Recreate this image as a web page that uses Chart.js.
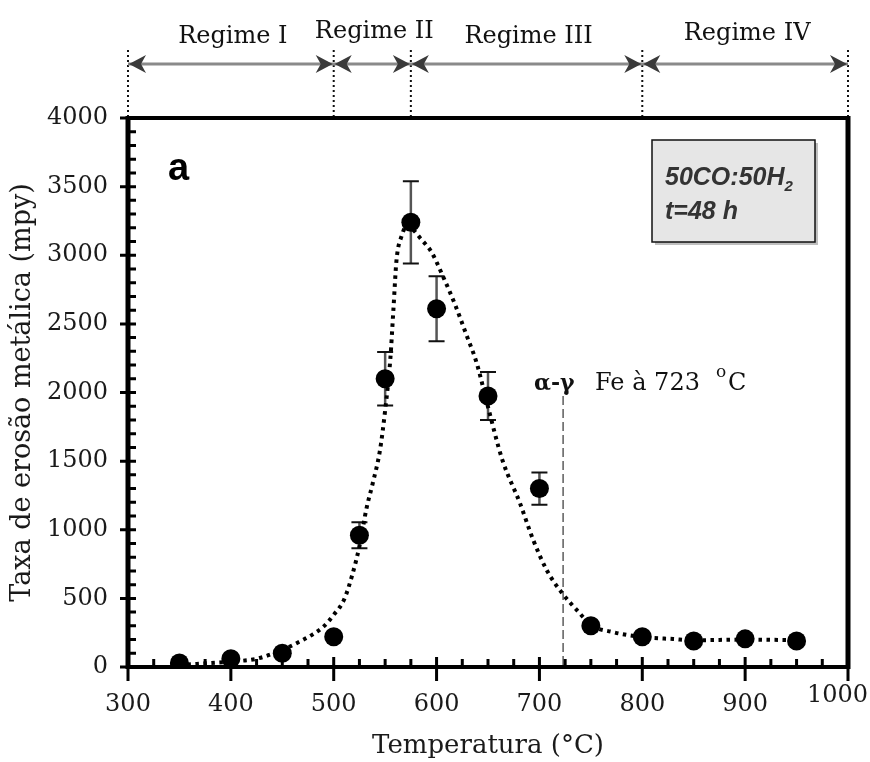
<!DOCTYPE html>
<html>
<head>
<meta charset="utf-8">
<script src="https://cdn.jsdelivr.net/npm/chart.js@4.4.0/dist/chart.umd.min.js"></script>
<style>
  html, body { margin: 0; padding: 0; background: #fff; }
  #wrap { width: 870px; height: 762px; }
</style>
</head>
<body>
<div id="wrap"><canvas id="erosionChart" width="870" height="762"></canvas></div>
<script>
// measured points (temperature in °C, erosion rate in mpy)
const temps  = [350, 400, 450, 500, 525, 550, 575, 600, 650, 700, 750, 800, 850, 900, 950];
const rates  = [30, 60, 100, 220, 960, 2100, 3240, 2610, 1975, 1300, 300, 220, 190, 205, 190];
const errors = [0, 0, 0, 0, 95, 195, 300, 237, 175, 117, 0, 0, 0, 0, 0];

// dotted fit curve
const fitTemps = [350, 400, 425, 450, 470, 480, 490, 500, 510, 518, 525, 532, 538, 545, 550, 555, 558, 561, 566, 572, 578, 584, 595, 606, 618, 629, 639, 649, 664, 681, 694, 707, 722, 739, 750, 771, 800, 830, 850, 900, 950];
const fitRates = [15, 40, 60, 125, 197, 240, 294, 380, 490, 670, 880, 1160, 1340, 1580, 1870, 2240, 2600, 2960, 3140, 3220, 3180, 3126, 3024, 2850, 2640, 2420, 2215, 1924, 1508, 1195, 925, 707, 539, 393, 306, 255, 218, 204, 195, 200, 195];

// regimes above the plot
const regimeBounds = [300, 500, 575, 800, 1000];
const regimeLabels = ["Regime I", "Regime II", "Regime III", "Regime IV"];
const regimeLabelY = [35, 30, 35, 32];

const xTicks = [300, 400, 500, 600, 700, 800, 900, 1000];
const yTicks = [0, 500, 1000, 1500, 2000, 2500, 3000, 3500, 4000];
const transitionTemp = 723;

const serif = "'DejaVu Serif', 'Liberation Serif', serif";
const sans = "'Liberation Sans', Arial, sans-serif";

const pts = temps.map((t, i) => ({ x: t, y: rates[i] }));
const fitPts = fitTemps.map((t, i) => ({ x: t, y: fitRates[i] }));

function arrowHead(ctx, x, y, dir) {
    // dir = -1 points left, 1 points right
    ctx.beginPath();
    ctx.moveTo(x, y);
    ctx.lineTo(x - dir * 17, y - 9);
    ctx.lineTo(x - dir * 12, y);
    ctx.lineTo(x - dir * 17, y + 9);
    ctx.closePath();
    ctx.fill();
}

const decorations = {
    id: "decorations",
    beforeDatasetsDraw(chart) {
        const ctx = chart.ctx;
        const xs = chart.scales.x, ys = chart.scales.y;
        const bottom = chart.chartArea.bottom;
        ctx.save();

        // transition line
        const xt = xs.getPixelForValue(transitionTemp);
        ctx.strokeStyle = "#333";
        ctx.lineWidth = 1.2;
        ctx.setLineDash([9, 4]);
        ctx.beginPath();
        ctx.moveTo(xt, 396);
        ctx.lineTo(xt, bottom);
        ctx.stroke();
        ctx.setLineDash([]);

        // error bars
        temps.forEach((t, i) => {
            if (!errors[i]) return;
            const px = xs.getPixelForValue(t);
            const y1 = ys.getPixelForValue(rates[i] + errors[i]);
            const y2 = ys.getPixelForValue(rates[i] - errors[i]);
            ctx.strokeStyle = "#555";
            ctx.lineWidth = 2.5;
            ctx.beginPath();
            ctx.moveTo(px, y1);
            ctx.lineTo(px, y2);
            ctx.stroke();
            ctx.strokeStyle = "#111";
            ctx.lineWidth = 2;
            ctx.beginPath();
            ctx.moveTo(px - 8, y1); ctx.lineTo(px + 8, y1);
            ctx.moveTo(px - 8, y2); ctx.lineTo(px + 8, y2);
            ctx.stroke();
        });
        ctx.restore();
    },
    afterDraw(chart) {
        const ctx = chart.ctx;
        const xs = chart.scales.x, ys = chart.scales.y;
        const { left, right, top, bottom } = chart.chartArea;
        ctx.save();

        // frame
        ctx.strokeStyle = "#000";
        ctx.lineWidth = 4;
        ctx.strokeRect(left, top, right - left, bottom - top);
        ctx.lineWidth = 5;
        ctx.beginPath();
        ctx.moveTo(left, top - 2); ctx.lineTo(left, bottom + 2);
        ctx.moveTo(right, top - 2); ctx.lineTo(right, bottom + 2);
        ctx.stroke();

        // y ticks: minor every 100 inward, major every 500 both sides
        ctx.lineWidth = 3;
        ctx.beginPath();
        for (let v = 0; v <= 4000; v += 100) {
            const py = ys.getPixelForValue(v);
            const major = v % 500 === 0;
            ctx.moveTo(major ? left - 8 : left, py);
            ctx.lineTo(left + 8, py);
        }
        // x ticks: minor every 25 upward, major every 100 both sides
        for (let v = 300; v <= 1000; v += 25) {
            const px = xs.getPixelForValue(v);
            const major = v % 100 === 0;
            ctx.moveTo(px, major ? bottom + 14 : bottom);
            ctx.lineTo(px, bottom - (major ? 10 : 8));
        }
        ctx.stroke();

        // x tick labels (last one is tucked in and raised, as in the original)
        ctx.fillStyle = "#1a1a1a";
        ctx.font = "24px " + serif;
        ctx.textBaseline = "middle";
        xTicks.forEach((v, i) => {
            const px = xs.getPixelForValue(v);
            if (i === xTicks.length - 1) {
                ctx.textAlign = "right";
                ctx.fillText(String(v), 868, 696);
            } else {
                ctx.textAlign = "center";
                ctx.fillText(String(v), px, 705);
            }
        });

        // panel letter
        ctx.fillStyle = "#000";
        ctx.font = "bold 38px " + sans;
        ctx.textBaseline = "alphabetic";
        ctx.textAlign = "left";
        ctx.fillText("a", 168, 180);

        // condition box
        ctx.fillStyle = "rgba(0,0,0,0.25)";
        ctx.fillRect(655, 143, 163, 102);
        ctx.fillStyle = "#e6e6e6";
        ctx.fillRect(652, 140, 163, 102);
        ctx.strokeStyle = "#111";
        ctx.lineWidth = 1.5;
        ctx.strokeRect(652, 140, 163, 102);
        ctx.fillStyle = "#333";
        ctx.font = "italic bold 25px " + sans;
        ctx.fillText("50CO:50H", 665, 185);
        const w = ctx.measureText("50CO:50H").width;
        ctx.font = "italic bold 15px " + sans;
        ctx.fillText("2", 665 + w, 191);
        ctx.font = "italic bold 25px " + sans;
        ctx.fillText("t=48 h", 665, 219);

        // transition label
        ctx.fillStyle = "#111";
        ctx.font = "bold 22px " + serif;
        ctx.fillText("\u03b1-\u03b3", 534, 390);
        ctx.font = "24px " + serif;
        ctx.fillText("Fe \u00e0 723", 595, 390);
        ctx.font = "17px " + serif;
        ctx.fillText("o", 716, 377);
        ctx.font = "24px " + serif;
        ctx.fillText("C", 728, 390);

        // regimes
        const ay = 64;
        ctx.strokeStyle = "#111";
        ctx.lineWidth = 2;
        ctx.setLineDash([2, 3]);
        ctx.beginPath();
        regimeBounds.forEach(b => {
            const px = xs.getPixelForValue(b);
            ctx.moveTo(px, 50);
            ctx.lineTo(px, top - 2);
        });
        ctx.stroke();
        ctx.setLineDash([]);
        ctx.strokeStyle = "#8a8a8a";
        ctx.lineWidth = 3;
        ctx.beginPath();
        ctx.moveTo(xs.getPixelForValue(regimeBounds[0]), ay);
        ctx.lineTo(xs.getPixelForValue(regimeBounds[regimeBounds.length - 1]), ay);
        ctx.stroke();
        ctx.fillStyle = "#3a3a3a";
        for (let i = 0; i < regimeLabels.length; i++) {
            const a = xs.getPixelForValue(regimeBounds[i]);
            const b = xs.getPixelForValue(regimeBounds[i + 1]);
            arrowHead(ctx, a + 1, ay, -1);
            arrowHead(ctx, b - 1, ay, 1);
        }
        ctx.fillStyle = "#111";
        ctx.font = "24px " + serif;
        ctx.textAlign = "center";
        regimeLabels.forEach((lab, i) => {
            const a = xs.getPixelForValue(regimeBounds[i]);
            const b = xs.getPixelForValue(regimeBounds[i + 1]);
            ctx.fillText(lab, (a + b) / 2 + 2, regimeLabelY[i] + 8);
        });
        ctx.restore();
    }
};

new Chart(document.getElementById("erosionChart"), {
    type: "scatter",
    data: {
        datasets: [
            {
                label: "fit",
                data: fitPts,
                showLine: true,
                borderColor: "#000",
                borderWidth: 4,
                borderDash: [3.5, 4.5],
                cubicInterpolationMode: "monotone",
                pointRadius: 0,
                fill: false
            },
            {
                label: "Taxa",
                data: pts,
                pointRadius: 9.5,
                pointBackgroundColor: "#000",
                pointBorderColor: "#000",
                pointBorderWidth: 0
            }
        ]
    },
    options: {
        responsive: false,
        animation: false,
        devicePixelRatio: 1,
        layout: { padding: { left: 0, top: 118, right: 22, bottom: 0 }, autoPadding: false },
        plugins: { legend: { display: false }, tooltip: { enabled: false } },
        scales: {
            x: {
                type: "linear",
                min: 300, max: 1000,
                afterBuildTicks: s => { s.ticks = xTicks.map(v => ({ value: v })); },
                afterFit: s => { s.height = 95; s.paddingLeft = 0; s.paddingRight = 0; },
                grid: { display: false, drawTicks: false },
                border: { display: false },
                ticks: { display: false },
                title: {
                    display: true, text: "Temperatura (\u00b0C)", color: "#1a1a1a",
                    font: { family: serif, size: 26 }, padding: { top: 0, bottom: 0 }
                }
            },
            y: {
                min: 0, max: 4000,
                afterBuildTicks: s => { s.ticks = yTicks.map(v => ({ value: v })); },
                afterFit: s => { s.width = 128; s.paddingTop = 0; s.paddingBottom = 0; },
                grid: { display: false, drawTicks: false },
                border: { display: false },
                ticks: { padding: 20, color: "#1a1a1a", font: { family: serif, size: 24 }, callback: v => String(v) },
                title: {
                    display: true, text: "Taxa de eros\u00e3o met\u00e1lica (mpy)", color: "#1a1a1a",
                    font: { family: serif, size: 27 }, padding: { top: 7, bottom: 0 }
                }
            }
        }
    },
    plugins: [decorations]
});
</script>
</body>
</html>
